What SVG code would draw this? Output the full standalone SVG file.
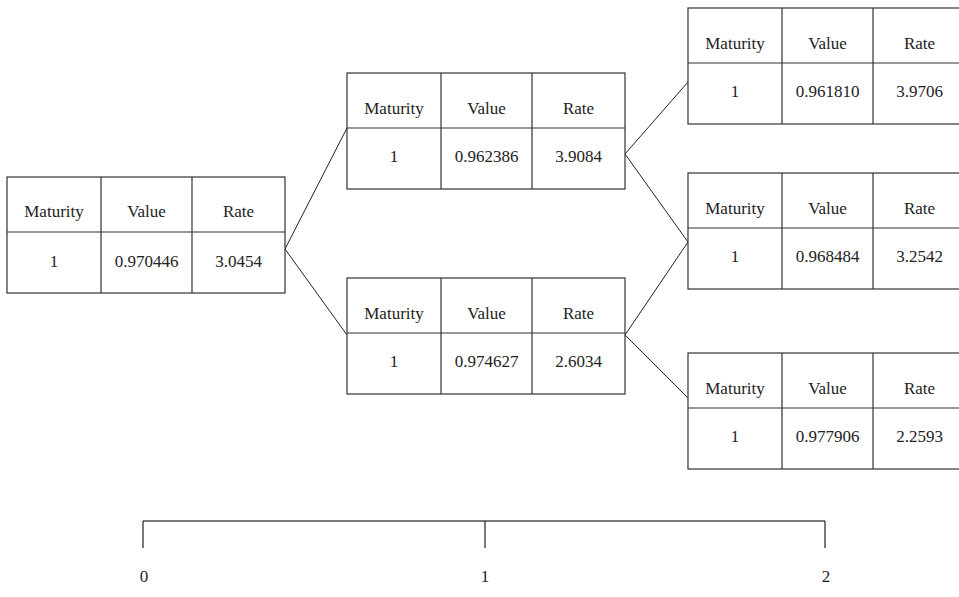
<svg xmlns="http://www.w3.org/2000/svg" width="959" height="597" viewBox="0 0 959 597">
  <style>
    .cell { fill: #ffffff; stroke: #333333; stroke-width: 1.2; }
    .grid { stroke: #333333; stroke-width: 1.2; fill: none; }
    .txt { font-family: "Liberation Serif", "Times New Roman", serif; font-size: 17px; fill: #222222; text-anchor: middle; }
    .edge { stroke: #222222; stroke-width: 1; fill: none; }
    .axis { stroke: #7a7a7a; stroke-width: 2; fill: none; }
    .tick { stroke: #222222; stroke-width: 1.2; fill: none; }
  </style>
  <defs>
    <!-- table frame: header row 55px, body row 61px, columns 94/91/93 -->
    <g id="frame">
      <rect class="cell" x="0" y="0" width="278" height="116"/>
      <path class="grid" d="M0 55 H278 M94 0 V116 M185 0 V116"/>
    </g>
  </defs>

  <rect width="959" height="597" fill="#ffffff"/>

  <!-- connectors -->
  <g id="connectors">
    <path class="edge" d="M285 249 L347 128 M285 249 L347 335"/>
    <path class="edge" d="M625 154 L688 82 M625 154 L688 242"/>
    <path class="edge" d="M625 335 L688 242 M625 335 L688 398"/>
  </g>

  <!-- period 0 -->
  <g id="node-0" transform="translate(7,177)">
    <use href="#frame"/>
    <text class="txt" x="47" y="40">Maturity</text>
    <text class="txt" x="139.5" y="40">Value</text>
    <text class="txt" x="231.5" y="40">Rate</text>
    <text class="txt" x="47" y="90">1</text>
    <text class="txt" x="139.5" y="90">0.970446</text>
    <text class="txt" x="231.5" y="90">3.0454</text>
  </g>

  <!-- period 1, up -->
  <g id="node-1u" transform="translate(347,73)">
    <use href="#frame"/>
    <text class="txt" x="47" y="41">Maturity</text>
    <text class="txt" x="139.5" y="41">Value</text>
    <text class="txt" x="231.5" y="41">Rate</text>
    <text class="txt" x="47" y="89">1</text>
    <text class="txt" x="139.5" y="89">0.962386</text>
    <text class="txt" x="231.5" y="89">3.9084</text>
  </g>

  <!-- period 1, down -->
  <g id="node-1d" transform="translate(347,278)">
    <use href="#frame"/>
    <text class="txt" x="47" y="41">Maturity</text>
    <text class="txt" x="139.5" y="41">Value</text>
    <text class="txt" x="231.5" y="41">Rate</text>
    <text class="txt" x="47" y="89">1</text>
    <text class="txt" x="139.5" y="89">0.974627</text>
    <text class="txt" x="231.5" y="89">2.6034</text>
  </g>

  <!-- period 2, up-up -->
  <g id="node-2uu" transform="translate(688,8)">
    <use href="#frame"/>
    <text class="txt" x="47" y="41">Maturity</text>
    <text class="txt" x="139.5" y="41">Value</text>
    <text class="txt" x="231.5" y="41">Rate</text>
    <text class="txt" x="47" y="89">1</text>
    <text class="txt" x="139.5" y="89">0.961810</text>
    <text class="txt" x="231.5" y="89">3.9706</text>
  </g>

  <!-- period 2, up-down -->
  <g id="node-2ud" transform="translate(688,173)">
    <use href="#frame"/>
    <text class="txt" x="47" y="41">Maturity</text>
    <text class="txt" x="139.5" y="41">Value</text>
    <text class="txt" x="231.5" y="41">Rate</text>
    <text class="txt" x="47" y="89">1</text>
    <text class="txt" x="139.5" y="89">0.968484</text>
    <text class="txt" x="231.5" y="89">3.2542</text>
  </g>

  <!-- period 2, down-down -->
  <g id="node-2dd" transform="translate(688,353)">
    <use href="#frame"/>
    <text class="txt" x="47" y="41">Maturity</text>
    <text class="txt" x="139.5" y="41">Value</text>
    <text class="txt" x="231.5" y="41">Rate</text>
    <text class="txt" x="47" y="89">1</text>
    <text class="txt" x="139.5" y="89">0.977906</text>
    <text class="txt" x="231.5" y="89">2.2593</text>
  </g>

  <!-- time axis -->
  <g id="time-axis">
    <path class="axis" d="M143 521 H825"/>
    <path class="tick" d="M143 521 V548 M485 521 V548 M825 521 V548"/>
    <text class="txt" x="144" y="582">0</text>
    <text class="txt" x="485" y="582">1</text>
    <text class="txt" x="826" y="582">2</text>
  </g>
</svg>
